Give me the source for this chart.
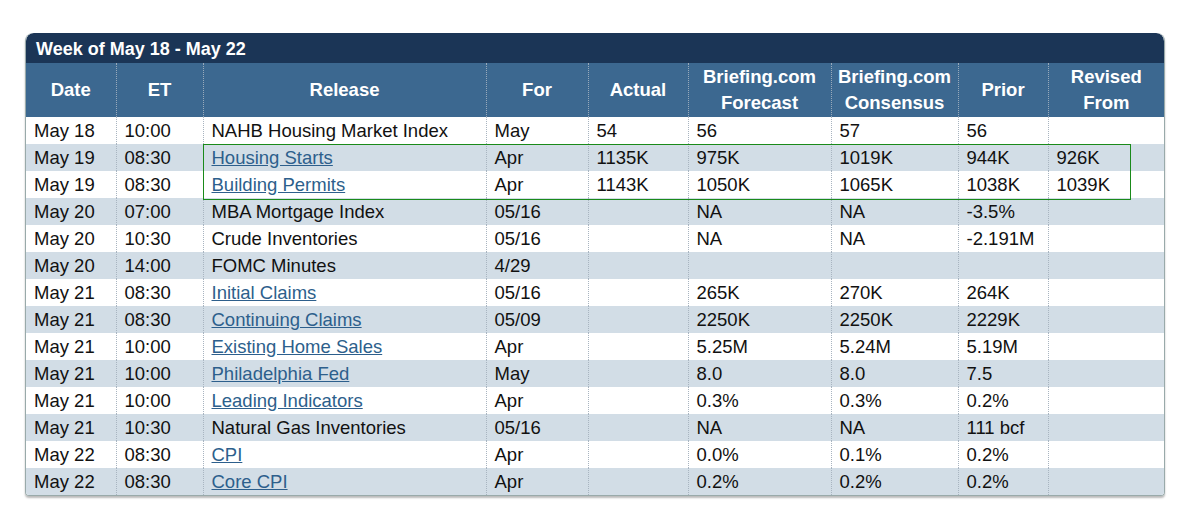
<!DOCTYPE html>
<html><head><meta charset="utf-8">
<script src="https://cdn.jsdelivr.net/npm/chart.js@4"></script>
<style>
body{margin:0;background:#fff;font-family:"Liberation Sans",Arial,sans-serif;}
#wrap{position:absolute;left:25px;top:33px;width:1138px;border:1px solid #9aa;border-top:none;border-radius:8px 8px 4px 4px;box-shadow:0 2px 2px #bbb;overflow:hidden}
#title{background:#1b3556;color:#fff;font-weight:bold;font-size:18px;height:30px;line-height:32px;padding-left:10px;border-radius:8px 8px 0 0}
table{border-collapse:collapse;width:1138px;table-layout:fixed}
th{background:#3c6890;color:#fff;font-size:18.5px;font-weight:bold;height:54px;line-height:26px;padding:0;border-left:1px dotted #9ab}
td{font-size:18.5px;height:27px;padding:0 0 0 8px;border-left:1px dotted #a8b4c0;color:#111;white-space:nowrap}
th:first-child,td:first-child{border-left:none}
tr.odd td{background:#fff} tr.even td{background:#d2dde6}
a{color:#2d5f8c;text-decoration:underline}
#box{position:absolute;left:177px;top:111px;width:926px;height:54px;border:1.5px solid #1a8a1a;pointer-events:none}
</style></head><body>
<div id="wrap"><div id="title">Week of May 18 - May 22</div><table id="t"></table><div id="box"></div></div>
<script>
const headers=["Date","ET","Release","For","Actual","Briefing.com<br>Forecast","Briefing.com<br>Consensus","Prior","Revised<br>From"];
const widths=[90,87,283,102,100,143,127,90,116];
const dates=["May 18","May 19","May 19","May 20","May 20","May 20","May 21","May 21","May 21","May 21","May 21","May 21","May 22","May 22"];
const times=["10:00","08:30","08:30","07:00","10:30","14:00","08:30","08:30","10:00","10:00","10:00","10:30","08:30","08:30"];
const releases=["NAHB Housing Market Index","Housing Starts","Building Permits","MBA Mortgage Index","Crude Inventories","FOMC Minutes","Initial Claims","Continuing Claims","Existing Home Sales","Philadelphia Fed","Leading Indicators","Natural Gas Inventories","CPI","Core CPI"];
const links=[0,1,1,0,0,0,1,1,1,1,1,0,1,1];
const periods=["May","Apr","Apr","05/16","05/16","4/29","05/16","05/09","Apr","May","Apr","05/16","Apr","Apr"];
const actual=["54","1135K","1143K","","","","","","","","","","",""];
const forecast=["56","975K","1050K","NA","NA","","265K","2250K","5.25M","8.0","0.3%","NA","0.0%","0.2%"];
const consensus=["57","1019K","1065K","NA","NA","","270K","2250K","5.24M","8.0","0.3%","NA","0.1%","0.2%"];
const prior=["56","944K","1038K","-3.5%","-2.191M","","264K","2229K","5.19M","7.5","0.2%","111 bcf","0.2%","0.2%"];
const revised=["","926K","1039K","","","","","","","","","","",""];
let h='<colgroup>'+widths.map(w=>`<col style="width:${w}px">`).join('')+'</colgroup><tr>'+headers.map(x=>`<th>${x}</th>`).join('')+'</tr>';
dates.forEach((d,i)=>{
  const rel=links[i]?`<a>${releases[i]}</a>`:releases[i];
  h+=`<tr class="${i%2?'even':'odd'}">`+[d,times[i],rel,periods[i],actual[i],forecast[i],consensus[i],prior[i],revised[i]].map(v=>`<td>${v}</td>`).join('')+'</tr>';
});
document.getElementById('t').innerHTML=h;
</script></body></html>
